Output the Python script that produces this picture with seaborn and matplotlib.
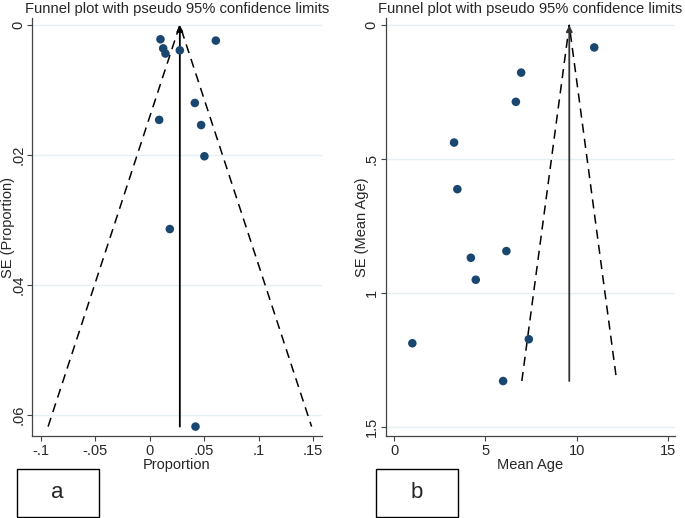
import matplotlib
matplotlib.use("Agg")
import matplotlib.pyplot as plt
from matplotlib.patches import Rectangle
import pandas as pd
import seaborn as sns

# panel a: proportion
prop = [0.0098, 0.0607, 0.0123, 0.0144, 0.0276, 0.0414, 0.0086, 0.0472, 0.0502, 0.0184, 0.0420]
prop_se = [0.0022, 0.0024, 0.0036, 0.0044, 0.0039, 0.0120, 0.0146, 0.0154, 0.0202, 0.0314, 0.0618]
prop_pooled = 0.0276

# panel b: mean age
age = [10.97, 6.96, 6.67, 3.28, 3.46, 6.15, 4.20, 4.47, 0.99, 7.38, 5.97]
age_se = [0.083, 0.177, 0.286, 0.438, 0.612, 0.843, 0.868, 0.950, 1.187, 1.172, 1.328]
age_pooled = 9.6

a_xticks = [-0.1, -0.05, 0, 0.05, 0.1, 0.15]
a_xlabels = ["-.1", "-.05", "0", ".05", ".1", ".15"]
a_yticks = [0, 0.02, 0.04, 0.06]
a_ylabels = ["0", ".02", ".04", ".06"]
b_xticks = [0, 5, 10, 15]
b_xlabels = ["0", "5", "10", "15"]
b_yticks = [0, 0.5, 1, 1.5]
b_ylabels = ["0", ".5", "1", "1.5"]

sns.set_style("white")
plt.rcParams["font.family"] = ["Liberation Sans", "DejaVu Sans"]

DOT = "#1a476f"
GRID = "#e6eff1"
TITLE = "Funnel plot with pseudo 95% confidence limits"


def funnel(ax, x, se, pooled, xlabel, ylabel, xlim, ylim, xticks, xlabels, yticks, ylabels, line_color):
    df = pd.DataFrame({"x": x, "se": se})
    for t in yticks:
        ax.axhline(t, color=GRID, lw=1, zorder=0)
    se_max = max(se)
    # pseudo 95% limits around the pooled estimate
    ax.plot([pooled - 1.96 * se_max, pooled, pooled + 1.96 * se_max], [se_max, 0, se_max],
            ls=(0, (6, 4)), color="black", lw=1.1)
    ax.annotate("", xy=(pooled, 0), xytext=(pooled, se_max),
                arrowprops=dict(arrowstyle="-|>", color=line_color, lw=1.3,
                                mutation_scale=9, shrinkA=0, shrinkB=0))
    sns.scatterplot(data=df, x="x", y="se", ax=ax, color=DOT, s=38, edgecolor="none", zorder=3)
    ax.set_xlim(*xlim)
    ax.set_ylim(*ylim)
    ax.set_xticks(xticks, xlabels)
    ax.set_yticks(yticks, ylabels)
    for lab in ax.get_yticklabels():
        lab.set_rotation(90)
        lab.set_va("center")
    ax.tick_params(axis="both", direction="out", length=3.6, width=0.8, color="#444444",
                   labelsize=10.5, left=True, bottom=True)
    ax.tick_params(axis="y", pad=1.5)
    ax.tick_params(axis="x", pad=2.5)
    ax.set_xlabel(xlabel, fontsize=10.5, labelpad=0)
    ax.set_ylabel(ylabel, fontsize=10.5)
    ax.yaxis.set_label_coords(-0.059, 0.5)
    ax.set_title(TITLE, fontsize=10.6, pad=4)
    sns.despine(ax=ax)
    for sp in ("left", "bottom"):
        ax.spines[sp].set_color("#444444")
        ax.spines[sp].set_linewidth(0.9)


fig = plt.figure(figsize=(6.85, 5.18), dpi=100)
ax1 = fig.add_axes([0.0472, 0.1589, 0.4224, 0.8054])
ax2 = fig.add_axes([0.5631, 0.1589, 0.4223, 0.8054])

funnel(ax1, prop, prop_se, prop_pooled, "Proportion", "SE (Proportion)",
       (-0.108, 0.158), (0.0632, -0.001), a_xticks, a_xlabels, a_yticks, a_ylabels, "black")
funnel(ax2, age, age_se, age_pooled, "Mean Age", "SE (Mean Age)",
       (-0.47, 15.4), (1.532, -0.025), b_xticks, b_xlabels, b_yticks, b_ylabels, "#333333")

for x0, lab in [(16.7, "a"), (375.7, "b")]:
    fig.patches.append(Rectangle((x0 / 685, 1 - 516.5 / 518), 82 / 685, 47.5 / 518,
                                 transform=fig.transFigure, fill=False, ec="black", lw=1))
    fig.text((x0 + 41) / 685, 1 - 493 / 518, lab, fontsize=16, ha="center", va="center")

fig.savefig("out.png", dpi=100)
